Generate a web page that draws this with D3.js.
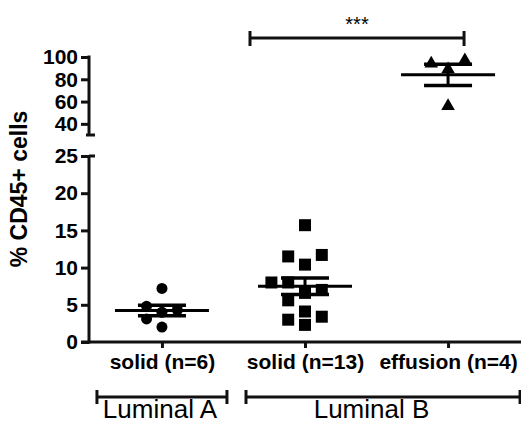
<!DOCTYPE html>
<html>
<head>
<meta charset="utf-8">
<script src="https://cdn.jsdelivr.net/npm/d3@7"></script>
<style>
  body { margin: 0; background: #fff; }
  svg { display: block; }
</style>
</head>
<body>
<svg id="chart"></svg>
<script>
/* data */
var categories = ["solid (n=6)", "solid (n=13)", "effusion (n=4)"];
var lumA_solid = [7.2, 4.8, 4.3, 4.0, 3.1, 2.0];
var lumB_solid = [15.7, 11.7, 11.5, 10.4, 8.0, 8.0, 7.0, 6.6, 5.6, 4.1, 3.4, 3.0, 2.3];
var lumB_effusion = [97, 94, 89, 56];
var groupNames = ["Luminal A", "Luminal B"];
var groupMembers = [["solid (n=6)"], ["solid (n=13)", "effusion (n=4)"]];
var yTicksLow = [0, 5, 10, 15, 20, 25];
var yTicksHigh = [40, 60, 80, 100];
var sigPair = ["solid (n=13)", "effusion (n=4)"];
var sigLabel = "***";

var font = "'Liberation Sans', Arial, sans-serif";
var W = 521, H = 425;

var svg = d3.select('#chart').attr('width', W).attr('height', H);

/* scales: broken y axis, two linear pieces */
var x = d3.scalePoint().domain(categories).range([89, 521]).padding(0.51);
var yLow = d3.scaleLinear().domain([0, 25]).range([342, 156]);
var yHigh = d3.scaleLinear().domain([30, 100]).range([135, 57]);
function yv(v){ return v <= 25 ? yLow(v) : yHigh(v); }

var series = [
    { cat: categories[0], values: lumA_solid, shape: d3.symbolCircle, size: 11, area: 95 },
    { cat: categories[1], values: lumB_solid, shape: d3.symbolSquare, size: 12, area: 144 },
    { cat: categories[2], values: lumB_effusion, shape: d3.symbolTriangle, size: 12, area: 80 }
];

/* simple column beeswarm, lowest values first */
function swarm(values, size){
    var step = size * 1.4;
    var placed = [];
    values.slice().sort(d3.ascending).forEach(function(v){
        var py = yv(v);
        for(var k = 0; k < 20; k++){
            var col = k === 0 ? 0 : (k % 2 ? -Math.ceil(k/2) : Math.ceil(k/2));
            var hit = placed.some(p => p.col === col && Math.abs(p.py - py) < size);
            if(!hit){ placed.push({v: v, py: py, col: col, dx: col * step}); break; }
        }
    });
    return placed;
}

/* axes */
function styleAxis(g){
    g.selectAll('path, line').attr('stroke', '#111').attr('stroke-width', 3);
    g.selectAll('text').attr('font-family', font).attr('font-size', '21px')
        .attr('font-weight', 'bold').attr('fill', '#000');
}

var axLow = svg.append('g').attr('transform', 'translate(89,0)')
    .call(d3.axisLeft(yLow).tickValues(yTicksLow).tickSize(8).tickSizeOuter(0).tickPadding(3))
    .call(styleAxis);
axLow.select('.domain').attr('d', `M0,${yLow(0) + 1.5}V${yLow(25)}`);

var axHigh = svg.append('g').attr('transform', 'translate(89,0)')
    .call(d3.axisLeft(yHigh).tickValues(yTicksHigh).tickSize(8).tickSizeOuter(0).tickPadding(3))
    .call(styleAxis);
axHigh.select('.domain').attr('d', `M0,${yHigh(100) - 1.5}V${yHigh(30)}`);

/* break caps */
svg.append('line').attr('x1', 86).attr('x2', 95).attr('y1', yHigh(30)).attr('y2', yHigh(30))
    .attr('stroke', '#111').attr('stroke-width', 3);
svg.append('line').attr('x1', 89).attr('x2', 95).attr('y1', yLow(25)).attr('y2', yLow(25))
    .attr('stroke', '#111').attr('stroke-width', 3);

var axX = svg.append('g').attr('transform', `translate(0,${yLow(0)})`)
    .call(d3.axisBottom(x).tickSize(6).tickSizeOuter(0).tickPadding(6))
    .call(styleAxis);
axX.select('.domain').attr('d', `M${89 - 8},0H${W}`);

/* y title */
svg.append('text')
    .attr('transform', 'translate(27,189) rotate(-90)')
    .attr('text-anchor', 'middle')
    .attr('font-family', font).attr('font-size', '23px').attr('font-weight', 'bold')
    .text('% CD45+ cells');

/* points */
series.forEach(function(s){
    var pts = swarm(s.values, s.size);
    svg.append('g').selectAll('path')
        .data(pts)
        .enter()
        .append('path')
        .attr('d', d3.symbol().type(s.shape).size(s.area))
        .attr('transform', d => `translate(${x(s.cat) + d.dx},${d.py})`)
        .attr('fill', '#000');
});

/* mean +/- SEM */
series.forEach(function(s){
    var m = d3.mean(s.values);
    var sem = d3.deviation(s.values) / Math.sqrt(s.values.length);
    var cx = x(s.cat);
    var g = svg.append('g').attr('stroke', '#000');
    g.append('line').attr('x1', cx - 47).attr('x2', cx + 47).attr('y1', yv(m)).attr('y2', yv(m))
        .attr('stroke-width', 3);
    g.append('line').attr('x1', cx).attr('x2', cx).attr('y1', yv(m + sem)).attr('y2', yv(m - sem))
        .attr('stroke-width', 3);
    [m + sem, m - sem].forEach(function(v){
        g.append('line').attr('x1', cx - 24).attr('x2', cx + 24).attr('y1', yv(v)).attr('y2', yv(v))
            .attr('stroke-width', 3.5);
    });
});

/* significance bracket */
var sx1 = x(sigPair[0]) - 55, sx2 = x(sigPair[1]) + 16, sy = 38;
var sig = svg.append('g').attr('stroke', '#111').attr('stroke-width', 3);
sig.append('line').attr('x1', sx1).attr('x2', sx2).attr('y1', sy).attr('y2', sy);
sig.append('line').attr('x1', sx1).attr('x2', sx1).attr('y1', sy - 7).attr('y2', sy + 8);
sig.append('line').attr('x1', sx2).attr('x2', sx2).attr('y1', sy - 7).attr('y2', sy + 8);
svg.append('text').attr('x', (sx1 + sx2) / 2).attr('y', 31)
    .attr('text-anchor', 'middle').attr('font-family', font).attr('font-size', '20px')
    .text(sigLabel);

/* group brackets */
var gy = 397;
groupNames.forEach(function(name, i){
    var mem = groupMembers[i];
    var a = x(mem[0]), b = x(mem[mem.length - 1]);
    var x1 = i === 0 ? a - 65 : a - 59;
    var x2 = i === 0 ? b + 65 : b + 72;
    var g = svg.append('g').attr('stroke', '#111').attr('stroke-width', 3);
    g.append('line').attr('x1', x1).attr('x2', x2).attr('y1', gy).attr('y2', gy);
    g.append('line').attr('x1', x1).attr('x2', x1).attr('y1', gy - 7).attr('y2', gy + 7);
    g.append('line').attr('x1', x2).attr('x2', x2).attr('y1', gy - 7).attr('y2', gy + 7);
    svg.append('text').attr('x', (a + b) / 2 - (i === 0 ? 2 : 5)).attr('y', 418)
        .attr('text-anchor', 'middle').attr('font-family', font).attr('font-size', '26px')
        .text(name);
});
</script>
</body>
</html>
